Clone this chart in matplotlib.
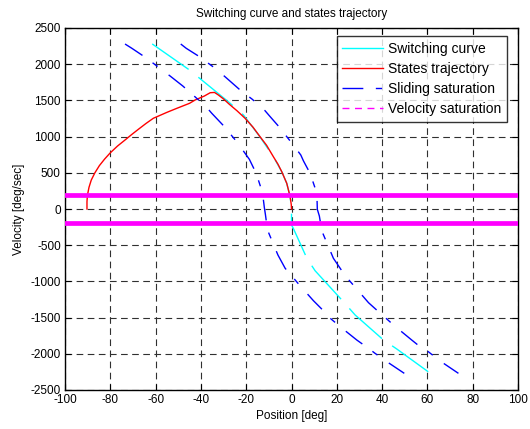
import matplotlib
matplotlib.use("Agg")
import matplotlib.pyplot as plt
from matplotlib.lines import Line2D
import numpy as np

plt.rcParams['font.family'] = ['Liberation Sans', 'DejaVu Sans']
plt.rcParams['axes.unicode_minus'] = False

# Switching curve (position [deg], velocity [deg/sec])
switch_x = [-61.5, -45.5, -43.6, -27.9, -21.2, -14.0, -8.0, -4.3, -2.1, -0.6, 0.0,
            0.0, 0.8, 6.8, 10.4, 22.9, 28.1, 40.6, 46.5, 61.9]
switch_v = [2280, 1930, 1883, 1482, 1298, 1000, 722, 515, 355, 170, 0,
            -221, -267, -681, -852, -1280, -1464, -1809, -1934, -2283]

# States trajectory
traj_x = [-90.3, -90.3, -90.1, -89.4, -88.4, -86.8, -84.8, -82.5, -80.1, -76.8, -73.5,
          -70.5, -67.6, -64.3, -61.0, -55.0, -50.6, -45.0, -42.6, -38.5, -35.9, -34.0,
          -32.3, -30.0, -27.5, -24.0, -20.5, -17.0, -13.9, -11.0, -8.0, -6.0, -4.3,
          -2.1, -0.6, -0.1, 0.0]
traj_v = [0, 100, 190, 300, 400, 500, 600, 690, 773, 870, 953,
          1030, 1101, 1180, 1253, 1335, 1391, 1460, 1505, 1560, 1606, 1610,
          1575, 1520, 1448, 1355, 1253, 1130, 999, 880, 722, 620, 515,
          355, 170, 60, 0]

# Sliding saturation boundaries
slide_left_x = [-73.5, -70.5, -65.4, -58.0, -55.8, -53.6, -48.0, -41.5, -37.1, -35.2,
                -30.3, -24.2, -20.5, -18.6, -15.6, -12.8, -12.0, -11.5, -10.6, -6.0,
                -2.8, -0.9, 3.5, 9.7, 14.8, 16.3, 21.5, 28.8, 34.4, 36.9, 42.1, 49.8]
slide_left_v = [2279, 2220, 2113, 1943, 1888, 1837, 1699, 1519, 1391, 1322,
                1160, 930, 769, 686, 493, 225, 23, -80, -290, -635,
                -819, -888, -1050, -1267, -1427, -1488, -1626, -1809, -1934, -1994, -2109, -2270]
slide_right_x = [-48.9, -46.5, -41.1, -33.3, -28.7, -22.7, -17.3, -11.7, -9.8, -5.8, 0.0,
                 4.1, 5.3, 8.2, 11.2, 11.4, 12.3, 13.4, 18.5, 22.2, 24.1, 28.5, 34.0,
                 38.4, 40.6, 45.4, 52.7, 58.0, 60.4, 65.6, 73.7]
slide_right_v = [2279, 2220, 2113, 1934, 1809, 1644, 1515, 1358, 1289, 1146, 916,
                 746, 663, 493, 217, -4, -97, -304, -681, -852, -935, -1095, -1294,
                 -1418, -1478, -1612, -1800, -1934, -1971, -2099, -2270]

# Velocity saturation levels
vel_sat = [195, -195]
x_range = [-100, 100]

xticks = list(range(-100, 101, 20))
yticks = list(range(-2500, 2501, 500))

fig = plt.figure(figsize=(5.30, 4.29), dpi=100)
ax = fig.add_axes([65/530, 39/429, 453/530, 362/429])

ax.plot(switch_x, switch_v, color='#00ffff', lw=1.0, dashes=(32, 9), zorder=3)
ax.plot(traj_x, traj_v, color='#ff0000', lw=1.0, zorder=4)
ax.plot(slide_left_x, slide_left_v, color='#0000ff', lw=1.0, dashes=(15, 9, 4.5, 10), zorder=5)
ax.plot(slide_right_x, slide_right_v, color='#0000ff', lw=1.0, dashes=(15, 9, 4.5, 10), zorder=5)
for vs in vel_sat:
    ax.plot(x_range, [vs, vs], color='#ff00ff', lw=3.4, zorder=6)

ax.set_xlim(-100, 100)
ax.set_ylim(-2500, 2500)
ax.set_xticks(xticks)
ax.set_yticks(yticks)
ax.tick_params(direction='in', length=4, width=0.8, top=True, right=True,
               labelsize=8.5, pad=3)
ax.set_axisbelow(True)
ax.grid(True, color='#303030', lw=0.8, dashes=(6, 4))
for s in ax.spines.values():
    s.set_linewidth(1.0)
    s.set_color('black')

ax.set_title('Switching curve and states trajectory', fontsize=8.5, pad=8)
ax.set_xlabel('Position [deg]', fontsize=8.5, labelpad=3)
ax.set_ylabel('Velocity [deg/sec]', fontsize=8.5, labelpad=4)

handles = [
    Line2D([], [], color='#00ffff', lw=1.0),
    Line2D([], [], color='#ff0000', lw=1.0),
    Line2D([], [], color='#0000ff', lw=1.0, dashes=(15, 9, 4.5, 10)),
    Line2D([], [], color='#ff00ff', lw=1.0, dashes=(5, 4)),
]
labels = ['Switching curve', 'States trajectory', 'Sliding saturation', 'Velocity saturation']
leg = ax.legend(handles, labels, loc='upper right', bbox_to_anchor=(1 - 11/453, 1 - 8/362),
                borderaxespad=0, fontsize=10, frameon=True, fancybox=False,
                edgecolor='black', handlelength=2.9, handletextpad=0.4,
                labelspacing=0.45, borderpad=0.4)
leg.get_frame().set_linewidth(1.0)

fig.savefig('out.png', dpi=100)
